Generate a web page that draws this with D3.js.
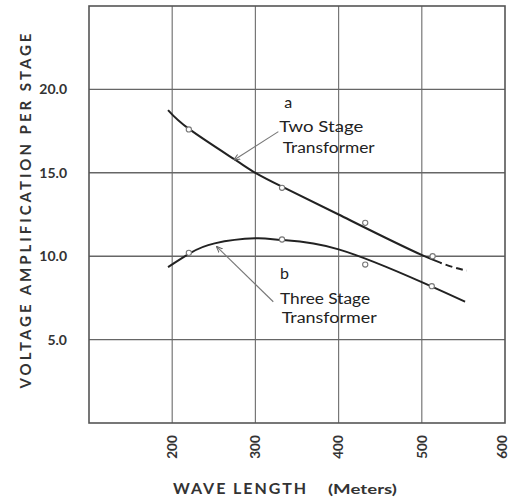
<!DOCTYPE html>
<html><head><meta charset="utf-8">
<script src="https://cdn.jsdelivr.net/npm/d3@7"></script>
<style>body{margin:0;background:#fff}svg{display:block}</style>
</head><body><svg id="c" width="510" height="500"></svg>
<script>
// measured data points
const pointWaveA = [220, 332, 432, 513];
const pointAmpA  = [17.6, 14.1, 12.0, 10.0];
const pointWaveB = [220, 332, 432, 512];
const pointAmpB  = [10.2, 11.0, 9.5, 8.2];
// smooth curves (curve a is dashed beyond dashFromA)
const curveWaveA = [195, 221, 275, 300, 332, 400, 501, 554];
const curveAmpA  = [18.76, 17.6, 15.8, 15.0, 14.17, 12.5, 10.05, 9.13];
const dashFromA  = 522;
const curveWaveB = [195, 221, 251, 300, 332, 400, 502, 552];
const curveAmpB  = [9.35, 10.17, 10.77, 11.07, 10.97, 10.41, 8.4, 7.27];
const xTicks = [200, 300, 400, 500, 600];
const yTicks = [5, 10, 15, 20];
const yTickLabels = ["5.0", "10.0", "15.0", "20.0"];

const svg = d3.select("#c");
const L = 89, R = 505, T = 6, B = 423;
const x = d3.scaleLinear().domain([100, 600]).range([L, R]);
const y = d3.scaleLinear().domain([0, 25]).range([B, T]);
const FONT = "Lato, sans-serif";

// grid
const g = svg.append("g");
g.selectAll(".vg").data(xTicks.slice(0, 4)).join("line")
  .attr("x1", d => x(d)).attr("x2", d => x(d)).attr("y1", y(0)).attr("y2", y(25))
  .attr("stroke", "#777").attr("stroke-width", 1.2);
g.selectAll(".hg").data(yTicks).join("line")
  .attr("y1", d => y(d)).attr("y2", d => y(d)).attr("x1", x(100)).attr("x2", x(600))
  .attr("stroke", "#666").attr("stroke-width", 1.4);
g.append("rect").attr("x", x(100)).attr("y", y(25)).attr("width", x(600) - x(100)).attr("height", y(0) - y(25))
  .attr("fill", "none").attr("stroke", "#555").attr("stroke-width", 1.6);

// y tick labels
svg.selectAll(".yl").data(yTicks).join("text")
  .attr("x", 67).attr("y", d => y(d)).attr("dy", "0.35em").attr("text-anchor", "end")
  .attr("font-family", FONT).attr("font-weight", 700).attr("font-size", 14).attr("fill", "#333")
  .text((d, i) => yTickLabels[i]);
// x tick labels rotated
svg.selectAll(".xl").data(xTicks).join("text")
  .attr("transform", d => `translate(${Math.min(x(d), 502)},447) rotate(-90)`)
  .attr("text-anchor", "middle").attr("dy", "0.35em")
  .attr("font-family", FONT).attr("font-weight", 700).attr("font-size", 13.5).attr("fill", "#333")
  .text(d => d);

// axis titles
svg.append("text").attr("transform", `translate(26,211) rotate(-90)`).attr("text-anchor", "middle").attr("dy", "0.35em")
  .attr("font-family", FONT).attr("font-weight", 700).attr("font-size", 15).attr("fill", "#333")
  .attr("textLength", 355).attr("lengthAdjust", "spacing")
  .text("VOLTAGE AMPLIFICATION PER STAGE");
svg.append("text").attr("x", 173).attr("y", 494)
  .attr("font-family", FONT).attr("font-weight", 700).attr("font-size", 16).attr("fill", "#333")
  .attr("textLength", 133).attr("lengthAdjust", "spacing").text("WAVE LENGTH");
svg.append("text").attr("x", 328).attr("y", 494)
  .attr("font-family", FONT).attr("font-weight", 700).attr("font-size", 13.5).attr("fill", "#333")
  .attr("textLength", 69).attr("lengthAdjust", "spacingAndGlyphs").text("(Meters)");

// curves
const defs = svg.append("defs");
defs.append("clipPath").attr("id", "solidA").append("rect")
  .attr("x", 0).attr("y", 0).attr("width", x(dashFromA)).attr("height", 500);
defs.append("clipPath").attr("id", "dashA").append("rect")
  .attr("x", x(dashFromA)).attr("y", 0).attr("width", 510 - x(dashFromA)).attr("height", 500);
const line = d3.line().x(d => x(d[0])).y(d => y(d[1])).curve(d3.curveNatural);
const zip = (a, b) => a.map((v, i) => [v, b[i]]);
const dA = line(zip(curveWaveA, curveAmpA));
svg.append("path").attr("d", dA).attr("clip-path", "url(#solidA)").attr("fill", "none").attr("stroke", "#222").attr("stroke-width", 2);
svg.append("path").attr("d", dA).attr("clip-path", "url(#dashA)").attr("fill", "none").attr("stroke", "#222").attr("stroke-width", 2).attr("stroke-dasharray", "7,4");
svg.append("path").attr("d", line(zip(curveWaveB, curveAmpB))).attr("fill", "none").attr("stroke", "#222").attr("stroke-width", 2);

// points
svg.selectAll(".pa").data(zip(pointWaveA, pointAmpA)).join("circle")
  .attr("cx", d => x(d[0])).attr("cy", d => y(d[1])).attr("r", 2.6)
  .attr("fill", "#fff").attr("stroke", "#777").attr("stroke-width", 1.1);
svg.selectAll(".pb").data(zip(pointWaveB, pointAmpB)).join("circle")
  .attr("cx", d => x(d[0])).attr("cy", d => y(d[1])).attr("r", 2.6)
  .attr("fill", "#fff").attr("stroke", "#777").attr("stroke-width", 1.1);

// annotations
defs.append("marker").attr("id", "ar").attr("viewBox", "0 0 10 10").attr("refX", 9).attr("refY", 5)
  .attr("markerWidth", 6).attr("markerHeight", 6).attr("orient", "auto")
  .append("path").attr("d", "M0,1L10,5L0,9").attr("fill", "none").attr("stroke", "#666").attr("stroke-width", 1.5);
const pointers = [[327.6, 17.47, 274.3, 15.77], [321.5, 7.27, 253.5, 10.57]];
svg.selectAll(".ptr").data(pointers).join("line")
  .attr("x1", d => x(d[0])).attr("y1", d => y(d[1])).attr("x2", d => x(d[2])).attr("y2", d => y(d[3]))
  .attr("stroke", "#777").attr("stroke-width", 1.1).attr("marker-end", "url(#ar)");

const labels = [
  ["a", 334.7, 18.88, 16, null],
  ["Two Stage", 328.7, 17.46, 15.5, 84],
  ["Transformer", 332.8, 16.2, 15.5, 92],
  ["b", 329.6, 8.63, 16, null],
  ["Three Stage", 329.6, 7.13, 15.5, 90],
  ["Transformer", 331.6, 5.98, 15.5, 95]
];
labels.forEach(l => {
  const t = svg.append("text").attr("x", x(l[1])).attr("y", y(l[2]))
    .attr("font-family", FONT).attr("font-size", l[3]).attr("fill", "#222").text(l[0]);
  if (l[4]) t.attr("textLength", l[4]).attr("lengthAdjust", "spacingAndGlyphs");
});
</script></body></html>
